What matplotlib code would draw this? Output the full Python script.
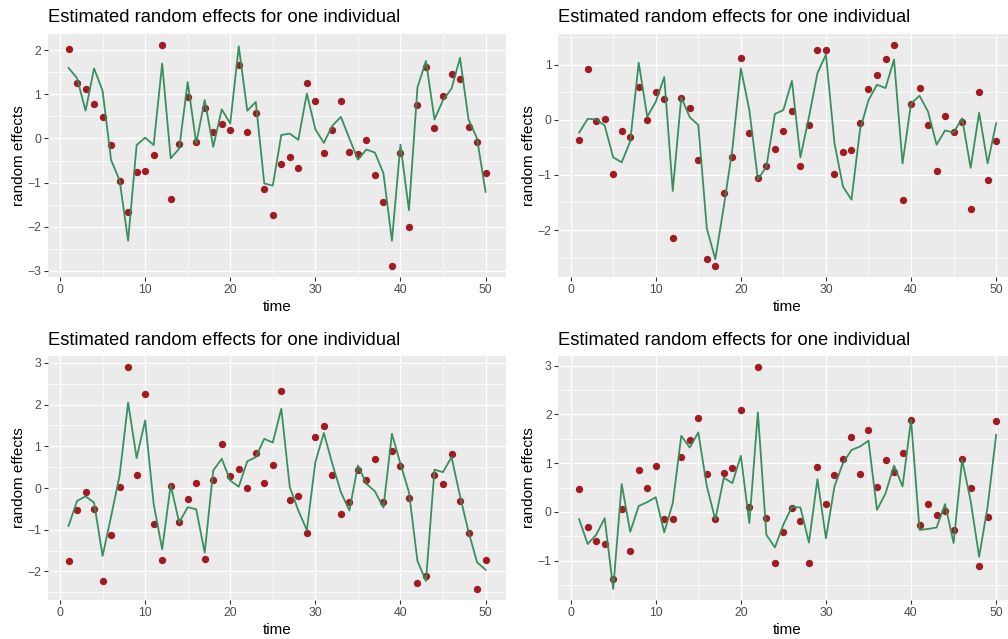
import numpy as np
import matplotlib
matplotlib.use("Agg")
import matplotlib.pyplot as plt
from matplotlib.ticker import MultipleLocator

plt.rcParams['font.family'] = ['Liberation Sans', 'DejaVu Sans']

time = list(range(1, 51))

p1_obs = [2.03, 1.25, 1.13, 0.78, 0.48, -0.14, -0.97, -1.66, -0.75, -0.74,
          -0.38, 2.13, -1.37, -0.12, 0.94, -0.09, 0.69, 0.15, 0.32, 0.19,
          1.66, 0.14, 0.57, -1.15, -1.73, -0.58, -0.43, -0.66, 1.26, 0.84,
          -0.34, 0.20, 0.84, -0.31, -0.36, -0.03, -0.83, -1.43, -2.90, -0.33,
          -2.01, 0.76, 1.62, 0.24, 0.97, 1.46, 1.34, 0.26, -0.08, -0.79]
p1_fit = [1.60, 1.37, 0.63, 1.59, 1.08, -0.49, -0.95, -2.32, -0.15, 0.02,
          -0.15, 1.70, -0.45, -0.23, 1.28, -0.11, 0.87, -0.19, 0.66, 0.34,
          2.09, 0.63, 0.83, -1.02, -1.07, 0.08, 0.11, -0.03, 1.02, 0.21,
          -0.10, 0.29, 0.49, 0.00, -0.48, -0.25, -0.32, -0.79, -2.32, -0.14,
          -1.63, 1.16, 1.76, 0.43, 0.87, 1.13, 1.83, 0.43, 0.00, -1.21]

p2_obs = [-0.37, 0.93, -0.01, 0.02, -0.99, -0.20, -0.31, 0.60, 0.00, 0.50,
          0.38, -2.15, 0.40, 0.21, -0.72, -2.53, -2.66, -1.33, -0.68, 1.13,
          -0.24, -1.05, -0.84, -0.53, -0.20, 0.17, -0.84, -0.10, 1.28, 1.28,
          -0.99, -0.58, -0.55, -0.06, 0.57, 0.82, 1.10, 1.37, -1.46, 0.29,
          0.59, -0.09, -0.93, 0.07, -0.22, -0.03, -1.62, 0.51, -1.10, -0.38]
p2_fit = [-0.23, 0.02, 0.01, -0.10, -0.68, -0.77, -0.39, 1.04, 0.06, 0.33,
          0.78, -1.29, 0.41, 0.05, -0.09, -1.97, -2.53, -1.57, -0.54, 0.94,
          0.18, -1.08, -0.85, 0.11, 0.18, 0.71, -0.68, 0.05, 0.85, 1.19,
          -0.42, -1.21, -1.45, -0.18, 0.36, 0.64, 0.58, 1.10, -0.79, 0.30,
          0.44, 0.15, -0.45, -0.19, -0.23, 0.03, -0.87, 0.13, -0.79, -0.06]

p3_obs = [-1.75, -0.53, -0.09, -0.50, -2.24, -1.13, 0.03, 2.90, 0.30, 2.25,
          -0.87, -1.73, 0.04, -0.81, -0.27, 0.13, -1.70, 0.20, 1.05, 0.29,
          0.46, 0.01, 0.85, 0.12, 0.54, 2.33, -0.28, -0.19, -1.09, 1.23,
          1.48, 0.32, -0.62, -0.34, 0.43, 0.19, 0.70, -0.33, 0.89, 0.53,
          -0.24, -2.28, -2.10, 0.30, 0.09, 0.82, -0.31, -1.09, -2.42, -1.73]
p3_fit = [-0.91, -0.31, -0.20, -0.35, -1.63, -0.68, 0.30, 2.05, 0.72, 1.62,
          -0.38, -1.47, 0.07, -0.83, -0.46, -0.51, -1.55, 0.42, 0.70, 0.18,
          0.03, 0.64, 0.74, 1.18, 1.09, 1.90, 0.02, -0.54, -1.01, 0.62,
          1.32, 0.58, -0.10, -0.54, 0.54, 0.10, -0.08, -0.47, 1.30, 0.58,
          -0.10, -1.75, -2.23, 0.44, 0.38, 0.74, -0.19, -1.05, -1.78, -1.96]

p4_obs = [0.46, -0.31, -0.59, -0.66, -1.38, 0.05, -0.81, 0.85, 0.50, 0.94,
          -0.14, -0.14, 1.13, 1.48, 1.93, 0.77, -0.14, 0.79, 0.90, 2.09,
          0.09, 2.97, -0.12, -1.04, -0.41, 0.08, -0.19, -1.05, 0.92, 0.16,
          0.75, 1.08, 1.54, 0.77, 1.68, 0.51, 1.07, 0.81, 1.20, 1.89,
          -0.27, 0.16, -0.06, 0.02, -0.37, 1.08, 0.49, -1.11, -0.11, 1.86]
p4_fit = [-0.15, -0.66, -0.47, -0.13, -1.58, 0.57, -0.41, 0.12, 0.20, 0.30,
          -0.42, 0.18, 1.56, 1.32, 1.63, 0.53, -0.16, 0.70, 0.59, 1.15,
          -0.23, 2.04, -0.47, -0.73, -0.26, 0.10, 0.09, -0.63, 0.67, -0.54,
          0.52, 1.00, 1.27, 1.34, 1.46, 0.04, 0.38, 0.95, 0.52, 1.89,
          -0.37, -0.35, -0.32, 0.16, -0.64, 1.07, 0.23, -0.92, 0.11, 1.58]

title = "Estimated random effects for one individual"
xlabel = "time"
ylabel = "random effects"

W, H = 1008, 639
fig = plt.figure(figsize=(W / 100, H / 100), dpi=100)

# panel boxes in pixel coords: left, right, top, bottom
boxes = [(47.7, 506.4, 33.5, 277.4), (558.3, 1017.0, 33.5, 277.4),
         (47.7, 506.4, 356.0, 600.0), (558.3, 1017.0, 356.0, 600.0)]
panels = [(p1_obs, p1_fit), (p2_obs, p2_fit), (p3_obs, p3_fit), (p4_obs, p4_fit)]

for (l, r, t, b), (obs, fit) in zip(boxes, panels):
    ax = fig.add_axes([l / W, 1 - b / H, (r - l) / W, (b - t) / H])
    ax.set_facecolor("#EBEBEB")
    for s in ax.spines.values():
        s.set_visible(False)
    ax.scatter(time, obs, s=28, color="#A31B22", zorder=3, linewidths=0)
    ax.plot(time, fit, color="#2E8B57", lw=1.3, zorder=4, alpha=0.95)
    ax.margins(x=0.05, y=0.05)
    ax.xaxis.set_major_locator(MultipleLocator(10))
    ax.xaxis.set_minor_locator(MultipleLocator(5))
    ax.yaxis.set_major_locator(MultipleLocator(1))
    ax.yaxis.set_minor_locator(MultipleLocator(0.5))
    ax.grid(which="major", color="white", lw=1.0, zorder=0)
    ax.grid(which="minor", color="white", lw=0.5, zorder=0)
    ax.set_axisbelow(True)
    ax.tick_params(which="major", length=2.75, width=0.8, color="#333333",
                   labelcolor="#4D4D4D", labelsize=8.8, pad=2)
    ax.tick_params(which="minor", length=0)
    ax.set_title(title, loc="left", fontsize=13.2, color="black", pad=8)
    ax.set_xlabel(xlabel, fontsize=11, labelpad=3)
    ax.set_ylabel(ylabel, fontsize=11, labelpad=1)

fig.savefig("out.png", dpi=100)
